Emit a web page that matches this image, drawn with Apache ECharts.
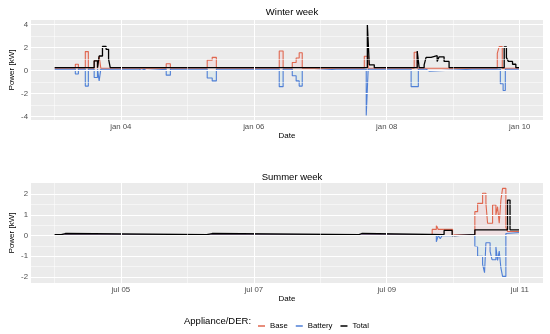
<!DOCTYPE html>
<html><head><meta charset="utf-8">
<script src="https://cdn.jsdelivr.net/npm/echarts@6/dist/echarts.min.js"></script>
<style>html,body{margin:0;padding:0;background:#fff}#c{width:550px;height:334px}</style>
</head><body><div id="c"></div>
<script>
// hours since start of week (winter: jan 03 00:00, summer: jul 04 00:00)
const winterBase = [[0,0.2],[7.6,0.55],[8.7,0.2],[11.2,1.65],[12.3,0.2],[14.4,0.85],[15.6,0.2],[16.2,1.27],[16.8,0.2],[40.4,0.6],[41.9,0.2],[55.2,0.9],[57,1.15],[58.5,0.2],[81.2,1.7],[82.6,0.2],[85.9,0.7],[87.3,1.1],[88.4,1.55],[89.5,0.2],[111.9,1.25],[113.3,0.2],[129.9,1.6],[131,0.2],[159.9,1.5],[160.6,2.1],[161.7,0.2],[168,0.2]];
const winterBattery = [[0,0.12],[7.6,-0.3],[8.7,0.12],[11.2,-1.35],[12.3,0.12],[14.4,-0.6],[15.6,0.12],[16.2,-0.9],[16.8,0.12],[30.7,0.0],[31.5,0.12],[32.4,0.0],[33.2,0.12],[40.4,-0.4],[41.9,0.12],[55.2,-0.65],[57,-0.9],[58.5,0.12],[81.2,-1.4],[82.6,0.12],[85.9,-0.45],[87.3,-0.9],[88.4,-1.35],[89.5,0.0],[93.8,0.12],[101.8,-0.05],[102.5,0.12],[112.6,-3.9],[113.3,0.12],[128.8,-1.4],[131.4,0.12],[134.2,-0.05],[135.3,0.12],[150.8,-0.05],[151.5,0.12],[161,-1.15],[162,-1.73],[162.8,0.12],[168,0.12]];
const winterTotal = [[0,0.25],[14.4,0.85],[15.6,0.25],[16.2,1.27],[17.4,2.1],[18.7,1.85],[19.6,1.0],[20.2,0.25],[113,4.0],[113.7,0.5],[115.5,0.25],[131,1.7],[131.7,0.25],[133.5,0.5],[134.2,1.15],[136,1.3],[138.2,0.8],[138.9,1.2],[140.7,0.8],[142.5,0.25],[162.4,2.07],[163.2,1.13],[163.9,0.8],[165.4,0.55],[166.6,0.25],[168,0.25]];

const summerBase = [[0,0.04],[136.4,0.3],[137.9,0.5],[138.6,0.3],[143.8,0.04],[151.8,1.16],[152.8,1.56],[154.6,2.05],[155.8,1.56],[156.4,0.6],[158.2,1.48],[159.4,1.0],[160,1.4],[160.6,0.6],[161.2,1.72],[161.8,2.29],[163,0.4],[163.6,0.2],[168,0.2]];
const summerBattery = [[0,0.02],[137.9,-0.3],[138.6,0.0],[139.3,-0.15],[140,0.0],[143.8,0.02],[151.8,-0.53],[152.8,-1.0],[154.6,-1.4],[155.3,-1.8],[155.8,-0.35],[157.3,-0.77],[158,-1.17],[159.4,-0.55],[160,-1.2],[160.6,-0.75],[161.2,-1.57],[161.8,-1.98],[163,0.1],[163.6,0.15],[168,0.15]];
const summerTotal = [[0,0.05],[2.5,0.1],[4,0.05],[55,0.1],[57,0.05],[110,0.1],[111,0.05],[140.7,0.25],[143.6,0.0],[144.4,0.05],[151.8,0.28],[163.6,1.72],[164.5,0.28],[168,0.28]];

const xTickHours = [24,72,120,168];
const xMinorHours = [0,48,96,144];
const winterTickLabels = ['jan 04','jan 06','jan 08','jan 10'];
const summerTickLabels = ['jul 05','jul 07','jul 09','jul 11'];
const winterYTicks = [-4,-2,0,2,4];
const winterYMinor = [-3,-1,1,3];
const summerYTicks = [-2,-1,0,1,2];
const summerYMinor = [-1.5,-0.5,0.5,1.5];
const seriesNames = ['Base','Battery','Total'];
const titles = ['Winter week','Summer week'];

const colors = {Base:'#E0674F', Battery:'#4F7FD6', Total:'#000000'};
const areas = {Base:'rgba(255,140,160,0.18)', Battery:'rgba(140,220,235,0.18)'};

const FONT = 'Liberation Sans, Arial, sans-serif';
const chart = echarts.init(document.getElementById('c'));
const grids = [
  {left:31, right:7, top:20, height:100, backgroundColor:'#EBEBEB', show:true, borderWidth:0, containLabel:false, outerBoundsMode:'none'},
  {left:31, right:7, top:183, height:100, backgroundColor:'#EBEBEB', show:true, borderWidth:0, containLabel:false, outerBoundsMode:'none'}
];
const yRanges = [[-4.3,4.4],[-2.3,2.55]];
const yTicks = [winterYTicks, summerYTicks];
const yMinor = [winterYMinor, summerYMinor];
const xLabels = [winterTickLabels, summerTickLabels];
const data = [[winterBase, winterBattery, winterTotal],[summerBase, summerBattery, summerTotal]];

const xAxis = [], yAxis = [], series = [];
const tickLabelStyle = {color:'#4D4D4D', fontSize:7.8, fontFamily:FONT};
for (let g = 0; g < 2; g++) {
  xAxis.push({
    type:'value', gridIndex:g, min:-8.4, max:176.4,
    axisLine:{show:false}, splitLine:{show:false},
    axisTick:{show:true, customValues:xTickHours, length:2.5, lineStyle:{color:'#333333', width:0.8}},
    axisLabel:Object.assign({customValues:xTickHours, margin:3,
      formatter:(v)=>{const i = xTickHours.indexOf(v); return i>=0 ? xLabels[g][i] : '';}}, tickLabelStyle),
    name:'Date', nameLocation:'middle', nameGap:12, nameMoveOverlap:false,
    nameTextStyle:{color:'#000', fontSize:8, fontFamily:FONT}
  });
  yAxis.push({
    type:'value', gridIndex:g, min:yRanges[g][0], max:yRanges[g][1],
    axisLine:{show:false}, splitLine:{show:false},
    axisTick:{show:true, customValues:yTicks[g], length:2.5, lineStyle:{color:'#333333', width:0.8}},
    axisLabel:Object.assign({customValues:yTicks[g], margin:3, formatter:(v)=>String(v)}, tickLabelStyle),
    name:'Power [kW]', nameLocation:'middle', nameGap:15, nameRotate:90, nameMoveOverlap:false,
    nameTextStyle:{color:'#000', fontSize:8, fontFamily:FONT}
  });
  // gridlines
  const ml = [];
  xMinorHours.forEach(v=>ml.push({xAxis:v, lineStyle:{color:'#fff', width:0.5, type:'solid'}}));
  yMinor[g].forEach(v=>ml.push({yAxis:v, lineStyle:{color:'#fff', width:0.5, type:'solid'}}));
  xTickHours.forEach(v=>ml.push({xAxis:v, lineStyle:{color:'#fff', width:1, type:'solid'}}));
  yTicks[g].forEach(v=>ml.push({yAxis:v, lineStyle:{color:'#fff', width:1, type:'solid'}}));
  series.push({
    type:'line', xAxisIndex:g, yAxisIndex:g, data:[], silent:true, z:1,
    markLine:{silent:true, symbol:['none','none'], label:{show:false}, animation:false, data:ml}
  });
  seriesNames.forEach((name, k) => {
    const s = {
      type:'line', name:name, xAxisIndex:g, yAxisIndex:g, step:'end',
      data:data[g][k], showSymbol:false, symbol:'none', z:2+k,
      lineStyle:{color:colors[name], width:name==='Total'?1.3:1.1}, itemStyle:{color:colors[name]},
      animation:false
    };
    if (areas[name]) s.areaStyle = {color:areas[name]};
    series.push(s);
  });
}

chart.setOption({
  animation:false,
  textStyle:{fontFamily:FONT},
  grid:grids, xAxis:xAxis, yAxis:yAxis, series:series,
  title:[
    {text:titles[0], left:287, top:2, textAlign:'center', textStyle:{fontSize:9.5, fontWeight:'normal', color:'#000', fontFamily:FONT}},
    {text:titles[1], left:287, top:167, textAlign:'center', textStyle:{fontSize:9.5, fontWeight:'normal', color:'#000', fontFamily:FONT}}
  ],
  legend:{data:seriesNames, left:253, top:317, icon:'rect', itemWidth:7, itemHeight:1.5, itemGap:8,
    textStyle:{fontSize:7.8, color:'#000', fontFamily:FONT}},
  graphic:[{type:'text', left:184, top:316, style:{text:'Appliance/DER:', fontSize:9.5, fill:'#000', fontFamily:FONT}}]
});
</script></body></html>
